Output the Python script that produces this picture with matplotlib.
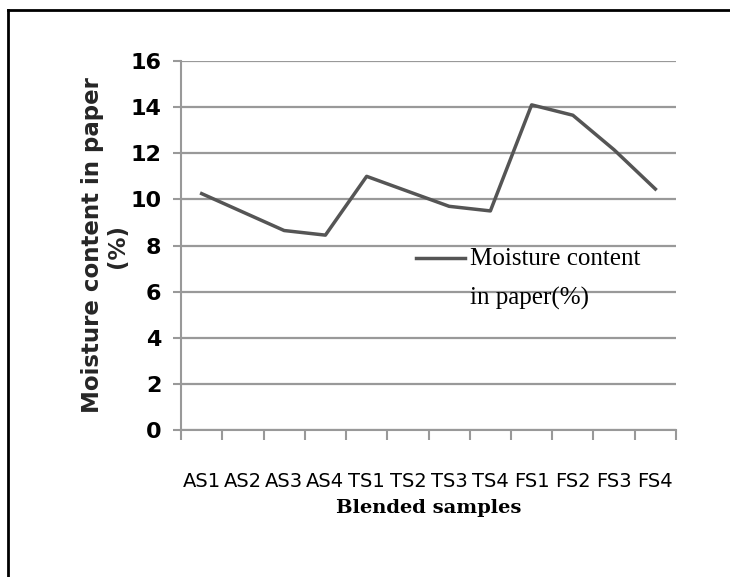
import matplotlib
matplotlib.use("Agg")
import matplotlib.pyplot as plt
from matplotlib.lines import Line2D
from matplotlib.legend_handler import HandlerLine2D
from matplotlib import font_manager as fm

categories = ["AS1", "AS2", "AS3", "AS4", "TS1", "TS2", "TS3", "TS4", "FS1", "FS2", "FS3", "FS4"]
moisture = [10.25, 9.45, 8.65, 8.45, 11.0, 10.35, 9.7, 9.5, 14.1, 13.65, 12.15, 10.45]
y_ticks = [0, 2, 4, 6, 8, 10, 12, 14, 16]
series_label = "Moisture content\nin paper(%)"

names = {f.name for f in fm.fontManager.ttflist}
narrow = "Liberation Sans Narrow" if "Liberation Sans Narrow" in names else "DejaVu Sans"


class TopHandler(HandlerLine2D):
    def create_artists(self, legend, orig_handle, xdescent, ydescent, width, height, fontsize, trans):
        arts = super().create_artists(legend, orig_handle, xdescent, ydescent, width, height, fontsize, trans)
        for a in arts:
            yd = a.get_ydata()
            a.set_ydata([v + 15 for v in yd])
        return arts


fig = plt.figure(figsize=(7.3, 5.77), dpi=100)
ax = fig.add_axes([0.248, 0.2548, 0.678, 0.6394])

x = list(range(len(categories)))
line, = ax.plot(x, moisture, color="#555555", lw=2.5, solid_joinstyle="round")

ax.set_xlim(-0.5, len(categories) - 0.5)
ax.set_ylim(0, 16)
ax.set_yticks(y_ticks)
ax.set_yticklabels([str(t) for t in y_ticks], family=narrow, fontsize=16, fontweight="bold")
ax.yaxis.grid(True, color="#999999", lw=1.6)
ax.set_axisbelow(True)

ax.set_xticks([i - 0.5 for i in range(len(categories) + 1)])
ax.set_xticklabels([])
ax.set_xticks(x, minor=True)
ax.set_xticklabels(categories, minor=True, family=narrow, fontsize=14)
ax.tick_params(axis="x", which="minor", length=0, pad=30)
ax.tick_params(axis="x", which="major", length=7, color="#999999", width=1.5, direction="out")
ax.tick_params(axis="y", length=6, color="#999999", width=1.5, pad=8)

for s in ["top", "right"]:
    ax.spines[s].set_visible(False)
for s in ["left", "bottom"]:
    ax.spines[s].set_color("#999999")
    ax.spines[s].set_linewidth(1.5)

ax.set_xlabel("Blended samples", family="DejaVu Serif", fontweight="bold", fontsize=14, labelpad=6)
ax.set_ylabel("Moisture content in paper\n(%)", family="DejaVu Sans", fontweight="bold",
              fontsize=16.5, color="#262626", linespacing=1.12, labelpad=1)

leg = ax.legend([line], [series_label], loc="upper left", bbox_to_anchor=(0.43, 0.555),
                frameon=False, handlelength=1.95, handletextpad=0.2,
                handler_map={Line2D: TopHandler()},
                prop={"family": "Liberation Serif", "size": 18})
for t in leg.get_texts():
    t.set_linespacing(2.0)

fig.add_artist(Line2D([8 / 730, 8 / 730], [0, 1 - 10 / 577], transform=fig.transFigure, color="black", lw=2))
fig.add_artist(Line2D([8 / 730, 1], [1 - 10 / 577, 1 - 10 / 577], transform=fig.transFigure, color="black", lw=2))

fig.savefig("out.png", dpi=100)
